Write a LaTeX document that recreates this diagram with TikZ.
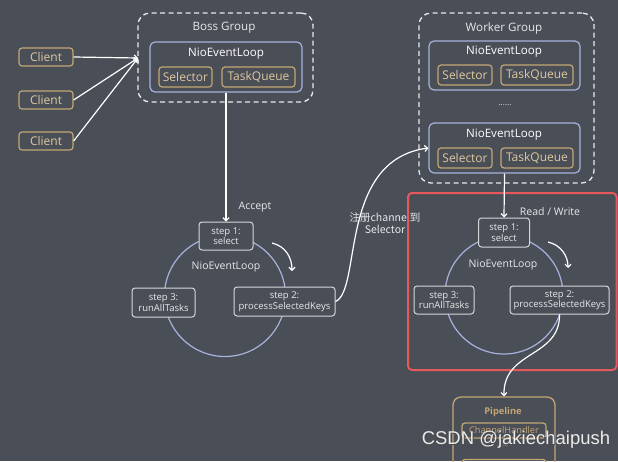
\documentclass[tikz,border=0pt]{standalone}
\usepackage{fontspec}
\setmainfont{Open Sans}
\newfontfamily\cjk{Noto Sans CJK SC}
\newfontfamily\wmark{Liberation Sans}
\usetikzlibrary{arrows.meta}

\definecolor{bgc}{RGB}{74,78,87}
\definecolor{tanc}{RGB}{196,166,116}
\definecolor{tantext}{RGB}{222,200,160}
\definecolor{bluec}{RGB}{168,178,222}
\definecolor{stepc}{RGB}{215,215,218}
\definecolor{lightc}{RGB}{232,232,234}
\definecolor{redc}{RGB}{230,88,92}

\begin{document}
\begin{tikzpicture}[x=1pt, y=-1pt, line join=round,
	group/.style={draw=lightc, line width=1.3pt, dash pattern=on 5pt off 3.5pt, rounded corners=12pt, inner sep=0pt},
	loopbox/.style={draw=bluec, line width=1.2pt, rounded corners=5pt, inner sep=0pt},
	tanbox/.style={draw=tanc, line width=1.2pt, rounded corners=3pt, text=tantext, inner sep=0pt, minimum height=20pt, font=\fontsize{12}{14}\selectfont},
	stepbox/.style={draw=stepc, line width=1pt, rounded corners=3pt, fill=bgc, text=lightc, align=center, inner sep=0pt, font=\fontsize{9.5}{10.5}\selectfont},
	ring/.style={circle, draw=bluec, line width=1.2pt, inner sep=0pt, minimum size=120pt},
	lbl/.style={text=lightc, inner sep=0pt, font=\fontsize{11.6}{13}\selectfont},
	flow/.style={draw=white, line width=1.2pt, -{Straight Barb[length=3pt,width=6pt]}}]

\clip (0, 0) rectangle (618, 461); % limit img size
\fill[bgc] (0, 0) rectangle (618, 461);

% clients
	\node[tanbox, minimum width=54pt, minimum height=18pt] (client1) at (46, 57) {Client};
	\node[tanbox, minimum width=54pt, minimum height=18pt] (client2) at (46, 100) {Client};
	\node[tanbox, minimum width=54pt, minimum height=18pt] (client3) at (46, 141) {Client};

	% boss group
	\node[group, minimum width=175pt, minimum height=89pt] (boss) at (225.5, 57.5) {};
	\node[lbl] (bosslbl) at (224, 28) {Boss Group};
	\node[loopbox, minimum width=152pt, minimum height=50pt] (bloop) at (226, 67) {};
	\node[lbl, text=white] (bnio) at (226, 54) {NioEventLoop};
	\node[tanbox, minimum width=53pt] (bsel) at (185.5, 77) {Selector};
	\node[tanbox, minimum width=73pt] (btask) at (258.5, 77) {TaskQueue};
	\coordinate (bossin) at (138, 58);

	\draw[flow] (client1.east) -- (bossin);
	\draw[flow] (client2.east) -- (bossin);
	\draw[flow] (client3.east) -- (bossin);

	% worker group
	\node[group, minimum width=175pt, minimum height=170pt] (worker) at (506.5, 98) {};
	\node[lbl] (workerlbl) at (504, 28) {Worker Group};
	\node[loopbox, minimum width=151pt, minimum height=49pt] (wloop1) at (504.5, 65.5) {};
	\node[lbl, text=white] (wnio1) at (504, 52) {NioEventLoop};
	\node[tanbox, minimum width=54pt] (wsel1) at (465, 75) {Selector};
	\node[tanbox, minimum width=72pt] (wtask1) at (537, 75) {TaskQueue};
	\node[lbl, font=\fontsize{8}{9}\selectfont] (wdots) at (505, 105) {......};
	\node[loopbox, minimum width=151pt, minimum height=50pt] (wloop2) at (504.5, 148) {};
	\node[lbl, text=white] (wnio2) at (504, 135) {NioEventLoop};
	\node[tanbox, minimum width=54pt] (wsel2) at (465, 158) {Selector};
	\node[tanbox, minimum width=72pt] (wtask2) at (537, 158) {TaskQueue};

	% boss loop
	\node[ring, minimum size=121pt] (lring) at (225, 296) {};
	\node[lbl, font=\fontsize{10.5}{12}\selectfont] (lnio) at (226, 267) {NioEventLoop};
	\node[stepbox, minimum width=54pt, minimum height=28pt] (lstep1) at (226, 236) {step 1:\\select};
	\node[stepbox, minimum width=63pt, minimum height=29pt] (lstep3) at (163.5, 302.5) {step 3:\\runAllTasks};
	\node[stepbox, minimum width=101pt, minimum height=29pt] (lstep2) at (284.5, 301.5) {step 2:\\processSelectedKeys};
	\node[lbl, font=\fontsize{10.5}{12}\selectfont] (accept) at (255, 207) {Accept};
	\coordinate (la) at (272, 243);
	\coordinate (lb) at (292, 271);

	\draw[flow] (bloop.south) -- (lstep1.north);
	\draw[flow] (la) .. controls (285, 246) and (292, 257) .. (lb);

	% register channel
	\node[lbl, align=center, font=\cjk\fontsize{10.5}{12.5}\selectfont] (reg) at (385, 223) {注册channel到\\Selector};
	\draw[flow] (lstep2.east) .. controls (362, 290) and (338, 160) .. (wloop2.west);

	% worker loop
	\draw[redc, line width=2pt, rounded corners=4pt] (408, 193) rectangle (616.5, 370);
	\node[ring, minimum size=118pt] (rring) at (504, 295) {};
	\node[lbl, font=\fontsize{10.5}{12}\selectfont] (rnio) at (503, 265) {NioEventLoop};
	\node[stepbox, minimum width=51pt, minimum height=29pt] (rstep1) at (504, 232.5) {step 1:\\select};
	\node[stepbox, minimum width=60pt, minimum height=28pt] (rstep3) at (444, 300) {step 3:\\runAllTasks};
	\node[stepbox, minimum width=99pt, minimum height=28pt] (rstep2) at (559.5, 300) {step 2:\\processSelectedKeys};
	\node[lbl, font=\fontsize{10.5}{12}\selectfont] (rw) at (550, 212) {Read / Write};
	\coordinate (ra) at (548, 242);
	\coordinate (rb) at (568, 268);

	\draw[flow] (wloop2.south) -- (rstep1.north);
	\draw[flow] (ra) .. controls (561, 245) and (568, 256) .. (rb);

	% pipeline
	\node[draw=tanc, line width=1.3pt, rounded corners=8pt, minimum width=102pt, minimum height=90pt, inner sep=0pt] (pipe) at (504, 442) {};
	\node[text=tanc, inner sep=0pt, font=\fontsize{9.3}{11}\selectfont\bfseries] (pipelbl) at (503, 412) {Pipeline};
	\node[tanbox, minimum width=84pt, minimum height=15pt, font=\fontsize{9.2}{11}\selectfont, text=tanc] (handler1) at (504, 430.5) {ChannelHandler};
	\node[text=tanc, inner sep=0pt, font=\fontsize{7}{8}\selectfont] (pdots) at (503, 446) {......};
	\node[tanbox, minimum width=84pt, minimum height=15pt] (handler2) at (504, 467) {};

	\draw[flow] (rstep2.south) .. controls (560, 358) and (503, 350) .. (pipe.north);

	% watermark
	\node[text=black!70, inner sep=0pt, font=\wmark\fontsize{18.5}{20}\selectfont] at (517, 441) {CSDN @jakiechaipush};
	\node[text=white!92!black, inner sep=0pt, font=\wmark\fontsize{18.5}{20}\selectfont] (wm) at (516, 440) {CSDN @jakiechaipush};

\end{tikzpicture}
\end{document}
